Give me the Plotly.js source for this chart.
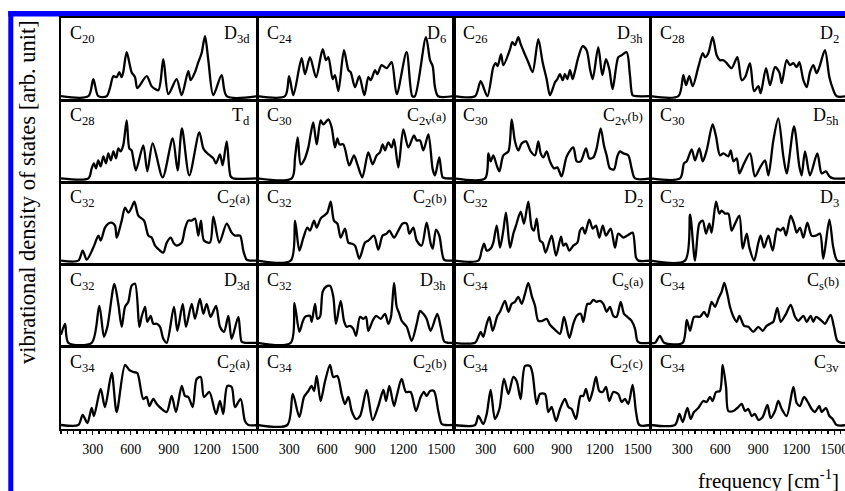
<!DOCTYPE html>
<html>
<head>
<meta charset="utf-8">
<script src="https://cdn.plot.ly/plotly-3.0.1.min.js"></script>
<style>html,body{margin:0;padding:0;background:#fff;}#chart{width:845px;height:491px;}</style>
</head>
<body>
<div id="chart"></div>
<script>
// frequency in cm^-1, vibrational density of states in arbitrary units
const c20_d3d_freq = [50,266,305,344,410,436,463,489,510,528,541,568,607,634,652,726,765,818,857,897,962,1002,1054,1073,1107,1133,1159,1186,1212,1251,1317,1357,1600];
const c20_d3d_dos  = [0,0,17,0,0,8,20,19,24,19,24,44,24,19,8,20,10,6,37,2,17,1,25,16,24,34,43,60,36,1,21,0,0];
const c24_d6_freq = [50,267,299,333,398,425,464,512,564,590,609,643,661,688,732,767,785,819,853,893,924,943,977,995,1029,1069,1108,1148,1226,1271,1292,1379,1411,1432,1450,1475,1600];
const c24_d6_dos  = [0,0,20,1,38,22,39,19,47,36,39,17,21,5,46,26,24,9,20,1,19,16,26,22,31,28,34,2,44,0,0,59,36,30,9,0,0];
const c26_d3h_freq = [50,216,260,313,360,379,394,421,439,492,510,531,557,576,602,636,670,715,749,781,807,847,865,886,907,925,944,965,986,1004,1031,1065,1096,1123,1144,1188,1220,1249,1275,1301,1346,1372,1412,1438,1459,1491,1600];
const c26_d3h_dos  = [0,0,15,0,29,33,30,42,31,47,54,51,59,52,44,34,24,57,34,17,1,14,17,22,16,22,17,26,17,25,39,50,46,27,17,49,21,37,27,7,39,41,44,21,1,0,0];
const c28_d2_freq = [50,270,309,330,356,383,427,462,480,506,540,572,598,625,651,690,735,769,796,835,867,901,919,961,993,1032,1066,1085,1124,1150,1177,1203,1224,1256,1282,1308,1334,1361,1382,1426,1461,1487,1518,1600];
const c28_d2_dos  = [0,0,21,11,20,10,29,43,39,43,59,41,36,36,33,28,39,16,19,33,5,10,3,28,11,29,24,13,36,31,33,29,34,16,9,24,31,23,29,46,19,8,0,0];
const c28_td_freq = [50,266,292,310,326,344,363,384,405,423,444,463,484,502,520,541,568,589,607,620,641,699,731,773,852,931,970,1004,1062,1141,1173,1204,1225,1252,1273,1304,1325,1357,1388,1409,1600];
const c28_td_dos  = [0,0,10,15,10,18,12,22,15,25,18,27,20,30,27,33,58,30,28,20,8,33,7,35,1,40,8,50,3,46,30,25,23,20,15,24,13,37,2,0,0];
const c30_c2va_freq = [50,320,346,367,391,417,451,469,490,517,548,569,609,635,661,680,696,727,774,811,838,877,924,958,990,1016,1037,1056,1082,1108,1127,1161,1200,1240,1284,1305,1332,1358,1398,1432,1450,1484,1511,1542,1600];
const c30_c2va_dos  = [0,0,21,41,14,18,31,44,56,34,58,54,59,51,31,40,34,34,13,23,14,1,26,14,23,26,34,28,36,31,39,11,49,31,43,38,38,28,44,9,3,21,1,0,0];
const c30_c2vb_freq = [50,295,321,339,360,387,408,439,479,505,531,557,584,618,655,689,715,734,755,781,807,839,865,899,939,991,1018,1049,1091,1117,1149,1175,1207,1233,1254,1280,1312,1338,1359,1386,1425,1451,1478,1600];
const c30_c2vb_dos  = [0,0,25,17,23,13,7,23,27,59,37,28,35,37,27,23,37,25,21,27,17,10,11,2,22,31,17,17,30,20,21,30,50,33,23,10,9,22,27,25,23,10,0,0];
const c30_d5h_freq = [50,283,314,335,375,401,435,462,493,540,567,598,625,664,683,704,730,751,788,835,874,919,953,980,1019,1058,1098,1124,1182,1224,1242,1269,1308,1366,1400,1434,1461,1492,1600];
const c30_d5h_dos  = [0,0,15,17,29,18,30,17,28,54,42,23,25,22,28,17,20,5,15,25,2,12,18,3,38,60,22,5,52,12,3,27,3,25,5,7,2,0,0];
const c32_c2a_freq = [50,187,221,253,305,345,363,397,423,450,476,489,502,529,555,581,607,629,660,705,739,765,792,831,857,884,915,941,962,1002,1028,1054,1081,1107,1133,1154,1178,1225,1252,1299,1357,1396,1422,1462,1488,1514,1541,1600];
const c32_c2a_dos  = [0,0,10,1,13,25,20,33,37,38,35,23,27,40,53,48,53,59,45,40,25,23,15,10,8,18,23,17,15,18,32,40,40,42,25,40,20,18,44,18,37,28,25,25,10,1,0,0];
const c32_c2b_freq = [50,312,346,380,412,443,464,496,517,548,575,601,627,653,680,706,740,767,793,819,853,898,924,969,1003,1037,1069,1090,1127,1161,1195,1227,1248,1279,1306,1345,1384,1416,1432,1458,1484,1521,1555,1600];
const c32_c2b_dos  = [0,0,40,10,23,33,30,40,33,42,45,48,59,40,37,23,32,18,17,15,2,18,20,25,11,25,27,30,23,30,37,37,27,33,20,15,38,17,12,31,25,1,0,0];
const c32_d2_freq = [50,242,268,287,308,339,360,387,413,439,460,492,518,539,576,602,636,663,681,702,728,749,773,820,855,894,912,933,960,991,1023,1044,1065,1083,1117,1144,1170,1196,1223,1249,1286,1320,1346,1386,1417,1459,1486,1504,1600];
const c32_d2_dos  = [0,0,10,17,10,12,18,35,13,30,48,13,27,35,49,37,59,33,30,42,20,18,8,25,5,24,15,17,10,15,18,30,33,27,41,32,35,23,35,25,32,13,27,23,25,28,3,0,0];
const c32_d3_freq = [50,322,362,401,435,462,488,514,532,567,593,611,638,664,690,717,751,777,809,830,867,901,919,946,980,1014,1050,1077,1098,1119,1156,1182,1203,1229,1256,1287,1321,1356,1387,1413,1461,1492,1524,1600];
const c32_d3_dos  = [0,0,46,0,37,40,27,37,28,59,47,50,47,47,30,37,45,12,27,13,0,18,25,13,25,10,32,30,33,25,45,37,28,33,23,38,25,25,27,2,41,13,0,0];
const c32_d3d_freq = [50,82,108,292,352,389,416,471,502,529,555,581,607,634,668,686,713,731,757,778,805,831,857,884,941,968,1010,1036,1081,1107,1146,1173,1199,1230,1273,1304,1336,1370,1396,1449,1475,1501,1600];
const c32_d3d_dos  = [8,19,0,0,37,6,16,59,39,16,36,41,57,59,16,26,36,21,27,19,19,16,4,0,36,12,39,16,39,24,44,29,39,26,37,16,11,27,4,26,1,0,0];
const c32_d3h_freq = [50,312,341,380,406,425,464,477,504,522,543,564,590,622,648,669,706,732,753,780,806,827,859,885,906,924,958,985,1022,1056,1082,1103,1127,1148,1169,1187,1227,1266,1306,1332,1358,1384,1416,1468,1495,1524,1555,1600];
const c32_d3h_dos  = [0,0,40,11,21,26,27,21,39,24,26,51,56,57,46,19,42,22,16,17,14,7,26,24,26,12,22,27,24,29,19,26,60,36,29,22,16,2,19,32,29,24,12,29,16,1,0,0];
const c34_csa_freq = [50,216,242,260,281,308,329,355,392,413,452,479,505,531,557,584,610,636,663,689,715,749,781,807,847,886,918,960,991,1018,1049,1070,1102,1123,1149,1175,1202,1228,1254,1280,1307,1333,1365,1391,1417,1451,1478,1496,1517,1600];
const c34_csa_dos  = [0,0,6,11,6,19,26,12,27,31,42,31,39,41,46,39,49,60,47,37,22,22,24,18,13,9,26,5,19,27,29,21,39,39,43,41,42,39,31,36,27,26,41,29,26,22,14,2,0,0];
const c34_csb_freq = [50,86,125,157,304,336,362,394,441,472,499,532,559,585,611,632,656,677,704,730,751,788,822,861,901,935,966,993,1019,1050,1077,1119,1156,1190,1216,1256,1282,1313,1334,1356,1400,1426,1471,1497,1524,1558,1600];
const c34_csb_dos  = [0,0,7,0,0,23,12,26,26,31,26,41,36,44,51,60,49,36,26,21,27,17,16,11,16,12,17,19,21,35,21,29,38,26,22,27,21,27,21,26,22,19,28,16,2,0,0];
const c34_c2a_freq = [50,187,221,258,292,310,363,397,450,489,555,589,621,652,699,726,747,778,805,836,884,923,957,1002,1028,1054,1089,1120,1152,1178,1220,1273,1304,1330,1362,1396,1422,1467,1501,1528,1600];
const c34_c2a_dos  = [0,0,10,2,17,9,36,18,52,13,60,55,53,52,26,28,19,26,21,17,13,29,13,39,29,28,18,46,48,28,33,11,24,11,39,38,18,26,4,0,0];
const c34_c2b_freq = [50,285,328,380,417,451,477,496,517,548,583,622,648,680,714,740,767,793,827,859,911,958,1003,1043,1064,1090,1127,1148,1187,1221,1258,1300,1337,1363,1384,1411,1442,1476,1503,1529,1600];
const c34_c2b_dos  = [0,0,31,8,28,34,39,34,49,24,44,60,48,49,31,21,28,14,6,9,35,5,19,35,24,39,19,29,46,33,33,14,28,33,29,34,34,14,1,0,0];
const c34_c2c_freq = [50,216,242,281,308,339,373,408,444,479,518,544,576,610,649,670,702,728,768,794,820,855,886,925,952,978,1012,1049,1070,1091,1117,1144,1170,1196,1223,1249,1275,1307,1346,1372,1399,1425,1459,1486,1512,1600];
const c34_c2c_dos  = [0,0,9,1,11,35,6,16,46,31,48,44,26,59,59,51,21,31,31,13,18,4,16,26,18,16,6,29,29,36,24,34,48,34,33,38,24,33,31,23,26,21,40,13,0,0];
const c34_c3v_freq = [50,243,278,304,341,367,393,427,467,493,519,540,567,598,619,646,664,704,735,769,796,822,848,874,901,935,972,998,1032,1058,1085,1124,1177,1203,1229,1261,1295,1321,1347,1382,1400,1434,1461,1487,1518,1600];
const c34_c3v_dos  = [0,0,11,3,17,6,13,17,24,23,28,24,33,34,60,38,14,14,17,21,14,16,9,11,5,8,20,7,14,24,16,9,38,22,19,28,22,16,13,19,13,17,9,6,0,0];

const molecules = ['C<sub>20</sub>','C<sub>24</sub>','C<sub>26</sub>','C<sub>28</sub>',
  'C<sub>28</sub>','C<sub>30</sub>','C<sub>30</sub>','C<sub>30</sub>',
  'C<sub>32</sub>','C<sub>32</sub>','C<sub>32</sub>','C<sub>32</sub>',
  'C<sub>32</sub>','C<sub>32</sub>','C<sub>34</sub>','C<sub>34</sub>',
  'C<sub>34</sub>','C<sub>34</sub>','C<sub>34</sub>','C<sub>34</sub>'];
const symmetries = ['D<sub>3d</sub>','D<sub>6</sub>','D<sub>3h</sub>','D<sub>2</sub>',
  'T<sub>d</sub>','C<sub>2v</sub>(a)','C<sub>2v</sub>(b)','D<sub>5h</sub>',
  'C<sub>2</sub>(a)','C<sub>2</sub>(b)','D<sub>2</sub>','D<sub>3</sub>',
  'D<sub>3d</sub>','D<sub>3h</sub>','C<sub>s</sub>(a)','C<sub>s</sub>(b)',
  'C<sub>2</sub>(a)','C<sub>2</sub>(b)','C<sub>2</sub>(c)','C<sub>3v</sub>'];
const xTickValues = [300,600,900,1200,1500];
const xTickLabels = ['300','600','900','1200','1500'];

const series = [
  [c20_d3d_freq,c20_d3d_dos],[c24_d6_freq,c24_d6_dos],[c26_d3h_freq,c26_d3h_dos],[c28_d2_freq,c28_d2_dos],
  [c28_td_freq,c28_td_dos],[c30_c2va_freq,c30_c2va_dos],[c30_c2vb_freq,c30_c2vb_dos],[c30_d5h_freq,c30_d5h_dos],
  [c32_c2a_freq,c32_c2a_dos],[c32_c2b_freq,c32_c2b_dos],[c32_d2_freq,c32_d2_dos],[c32_d3_freq,c32_d3_dos],
  [c32_d3d_freq,c32_d3d_dos],[c32_d3h_freq,c32_d3h_dos],[c34_csa_freq,c34_csa_dos],[c34_csb_freq,c34_csb_dos],
  [c34_c2a_freq,c34_c2a_dos],[c34_c2b_freq,c34_c2b_dos],[c34_c2c_freq,c34_c2c_dos],[c34_c3v_freq,c34_c3v_dos]
];

// ---- layout geometry (pixels) ----
const W = 845, H = 491;
const colL = [61, 257.5, 454, 650.5], colW = 196.5;
const rowT = [18, 100.2, 182.4, 264.6, 346.8], rowH = 82.2;
const FX = v => v / W, FY = v => 1 - v / H;
const serif = 'Liberation Serif, Times New Roman, serif';

const traces = [];
const layout = {
  width: W, height: H,
  margin: {l: 0, r: 0, t: 0, b: 0},
  paper_bgcolor: '#fff', plot_bgcolor: 'rgba(0,0,0,0)',
  showlegend: false, hovermode: false,
  font: {family: serif, color: '#000'},
  annotations: [], shapes: []
};

series.forEach((s, i) => {
  const r = Math.floor(i / 4), c = i % 4;
  const sfx = i === 0 ? '' : String(i + 1);
  const x0 = colL[c], x1 = Math.min(colL[c] + colW, W);
  const xr = [50, 50 + (x1 - x0) * 1550 / colW];
  traces.push({
    x: s[0], y: s[1], type: 'scatter', mode: 'lines',
    xaxis: 'x' + sfx, yaxis: 'y' + sfx,
    line: {color: '#000', width: 2.3, shape: 'spline', smoothing: 0.8},
    cliponaxis: true
  });
  const bottom = r === 4;
  layout['xaxis' + sfx] = {
    domain: [FX(x0), FX(x1)], range: xr, anchor: 'y' + sfx,
    showgrid: false, zeroline: false, showline: true, mirror: true,
    linecolor: '#000', linewidth: 1.6,
    showticklabels: bottom, ticks: bottom ? 'outside' : '',
    tickvals: xTickValues, ticktext: xTickLabels,
    ticklen: 4.5, tickwidth: 1.3, tickcolor: '#000',
    tickfont: {family: serif, size: 14, color: '#000'},
    ticklabelstandoff: 2, ticklabeloverflow: 'allow',
    minor: bottom ? {dtick: 50, tick0: 0, ticks: 'outside', ticklen: 3, tickwidth: 1.3, tickcolor: '#000', showgrid: false} : {ticks: ''},
    fixedrange: true
  };
  layout['yaxis' + sfx] = {
    domain: [FY(rowT[r] + rowH), FY(rowT[r])], range: [-4, 78.2], anchor: 'x' + sfx,
    showgrid: false, zeroline: false, showline: true, mirror: true,
    linecolor: '#000', linewidth: 1.6, showticklabels: false, ticks: '',
    fixedrange: true
  };
  layout.annotations.push({
    xref: 'paper', yref: 'paper', x: FX(x0 + 7), y: FY(rowT[r] + 3),
    xanchor: 'left', yanchor: 'top', showarrow: false,
    text: molecules[i], font: {family: serif, size: 18, color: '#000'}
  });
  layout.annotations.push({
    xref: 'paper', yref: 'paper', x: FX(colL[c] + colW - 6), y: FY(rowT[r] + 3),
    xanchor: 'right', yanchor: 'top', showarrow: false,
    text: symmetries[i].replace(/\((.)\)/, '<span style="font-size:13px">($1)</span>'),
    font: {family: serif, size: 18, color: '#000'}
  });
});

// axis titles
layout.annotations.push({
  xref: 'paper', yref: 'paper', x: FX(27), y: FY(192), xanchor: 'center', yanchor: 'middle',
  textangle: -90, showarrow: false, text: 'vibrational density of states [arb. unit]',
  font: {family: serif, size: 22.5, color: '#000'}
});
layout.annotations.push({
  xref: 'paper', yref: 'paper', x: FX(696), y: FY(479), xanchor: 'left', yanchor: 'middle',
  showarrow: false, text: 'frequency [cm<sup>-1</sup>]',
  font: {family: serif, size: 21, color: '#000'}
});

// blue frame of the figure
layout.shapes.push({type: 'rect', xref: 'paper', yref: 'paper', x0: FX(8.3), x1: FX(13.3), y0: FY(491), y1: FY(11), fillcolor: '#0000ff', line: {width: 0}, layer: 'below'});
layout.shapes.push({type: 'rect', xref: 'paper', yref: 'paper', x0: FX(8.3), x1: FX(845), y0: FY(16.5), y1: FY(11), fillcolor: '#0000ff', line: {width: 0}, layer: 'below'});

Plotly.newPlot('chart', traces, layout, {staticPlot: true, displayModeBar: false});
</script>
</body>
</html>
